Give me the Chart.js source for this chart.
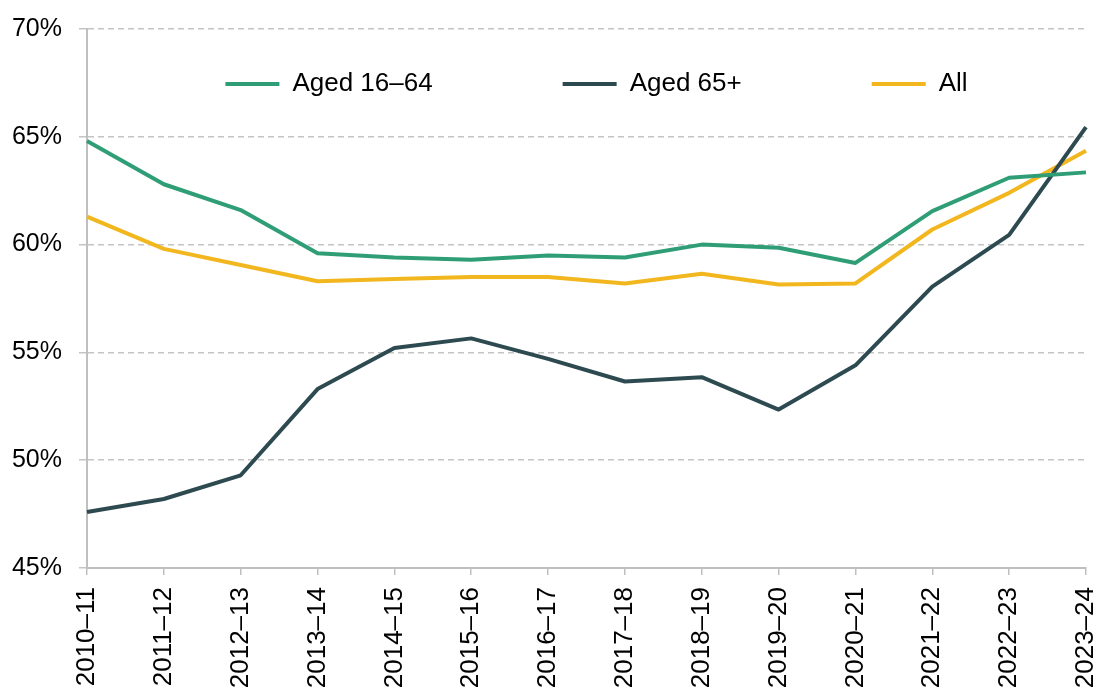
<!DOCTYPE html>
<html>
<head>
<meta charset="utf-8">
<script src="https://cdn.jsdelivr.net/npm/chart.js@4.4.1/dist/chart.umd.min.js"></script>
<style>
  html, body { margin: 0; padding: 0; background: #fff; }
  #wrap { width: 1100px; height: 688px; position: relative; }
</style>
</head>
<body>
<div id="wrap"><canvas id="chart"></canvas></div>
<script>
// Data
const years = ['2010–11', '2011–12', '2012–13', '2013–14', '2014–15', '2015–16', '2016–17',
               '2017–18', '2018–19', '2019–20', '2020–21', '2021–22', '2022–23', '2023–24'];
const aged1664 = [64.8, 62.8, 61.6, 59.6, 59.4, 59.3, 59.5, 59.4, 60.0, 59.85, 59.15, 61.55, 63.1, 63.35];
const aged65 = [47.6, 48.2, 49.3, 53.3, 55.2, 55.65, 54.7, 53.65, 53.85, 52.35, 54.4, 58.05, 60.45, 65.45];
const all = [61.3, 59.8, 59.05, 58.3, 58.4, 58.5, 58.5, 58.2, 58.65, 58.15, 58.2, 60.7, 62.4, 64.35];
const yTicks = { min: 45, max: 70, step: 5 };

const font = "'Liberation Sans', Arial, sans-serif";
const legendPad = 130;

// the legend sits inside the plot: move its box down over the chart area
// (the legend clips to its own box, so grow it as well)
const legendShift = {
    id: 'legendShift',
    afterLayout(chart) {
        const lg = chart.legend;
        const want = 71;  // top of the legend row
        lg.top = want - legendPad;
        lg.bottom = want + 40;
        lg.height = lg.bottom - lg.top;
        lg.left = 93;
        lg.right = chart.width;
        lg.width = lg.right - lg.left;
    }
};

const ctx = document.getElementById('chart').getContext('2d');
new Chart(ctx, {
    type: 'line',
    data: {
        labels: years,
        datasets: [
            { label: 'Aged 16–64', data: aged1664, borderColor: '#2f9e76', backgroundColor: '#2f9e76', borderWidth: 4 },
            { label: 'Aged 65+', data: aged65, borderColor: '#2e4a51', backgroundColor: '#2e4a51', borderWidth: 4 },
            { label: 'All', data: all, borderColor: '#f2b71f', backgroundColor: '#f2b71f', borderWidth: 4 }
        ]
    },
    options: {
        responsive: true,
        maintainAspectRatio: false,
        animation: false,
        layout: { padding: { top: 0, right: 14, left: 0, bottom: 0 } },
        elements: {
            line: { tension: 0, borderJoinStyle: 'round' },
            point: { radius: 0 }
        },
        plugins: {
            tooltip: { enabled: false },
            legend: {
                position: 'top',
                align: 'center',
                fullSize: true,
                maxHeight: 29,
                labels: {
                    usePointStyle: true,
                    pointStyle: 'line',
                    pointStyleWidth: 54,
                    padding: legendPad,
                    color: '#000',
                    font: { family: font, size: 26 }
                }
            }
        },
        scales: {
            x: {
                offset: false,
                grid: {
                    drawOnChartArea: false,
                    drawTicks: true,
                    tickLength: 7,
                    color: '#bfbfbf',
                    lineWidth: 1.5
                },
                border: { display: true, color: '#bfbfbf', width: 2 },
                ticks: {
                    minRotation: 90,
                    maxRotation: 90,
                    autoSkip: false,
                    padding: 12,
                    color: '#000',
                    font: { family: font, size: 26 }
                },
                afterFit: s => {
                    s.height = 120;
                    s.paddingLeft = 0;
                    s.paddingRight = 0;
                }
            },
            y: {
                min: yTicks.min,
                max: yTicks.max,
                grid: {
                    color: '#c4c4c4',
                    lineWidth: 1.5,
                    drawTicks: true,
                    tickLength: 8
                },
                border: { display: true, color: '#bfbfbf', width: 2, dash: [6, 4] },
                ticks: {
                    stepSize: yTicks.step,
                    padding: 17,
                    color: '#000',
                    font: { family: font, size: 25 },
                    callback: v => v + '%'
                },
                afterFit: s => {
                    s.width = 87;
                    s.paddingTop = 0;
                    s.paddingBottom = 0;
                }
            }
        }
    },
    plugins: [legendShift]
});
</script>
</body>
</html>
